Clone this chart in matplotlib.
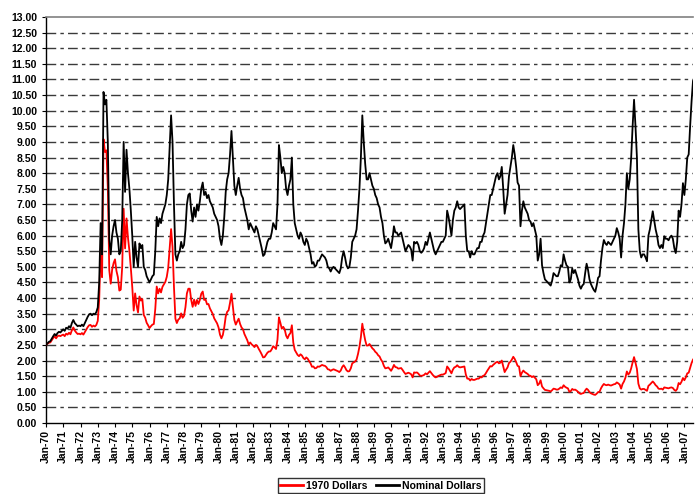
import matplotlib
matplotlib.use("Agg")
import matplotlib.pyplot as plt
import numpy as np

plt.rcParams['font.family'] = ['Liberation Sans', 'DejaVu Sans']
plt.rcParams['font.weight'] = 'bold'

# monthly prices, Jan-70 .. Jul-07 (one row per year)
nominal = [
    2.50, 2.55, 2.60, 2.62, 2.70, 2.78, 2.85, 2.80, 2.88, 2.92, 2.90, 2.95,  # 70
    3.00, 2.95, 3.05, 3.02, 3.10, 3.05, 3.20, 3.30, 3.20, 3.15, 3.10, 3.12,  # 71
    3.10, 3.15, 3.10, 3.20, 3.30, 3.40, 3.48, 3.50, 3.45, 3.50, 3.48, 3.55,  # 72
    3.70, 4.50, 6.40, 5.40, 10.60, 10.20, 10.35, 9.00, 5.90, 5.40, 6.00, 6.30,  # 73
    6.50, 6.10, 5.90, 5.40, 5.50, 6.50, 9.00, 7.40, 8.75, 8.00, 7.50, 6.80,  # 74
    6.00, 5.00, 5.80, 5.30, 5.00, 5.75, 5.60, 5.70, 5.00, 4.90, 4.70, 4.60,  # 75
    4.50, 4.60, 4.70, 4.75, 5.50, 6.60, 6.30, 6.55, 6.40, 6.70, 6.85, 7.00,  # 76
    7.30, 7.80, 8.80, 9.85, 9.00, 7.00, 5.40, 5.20, 5.40, 5.50, 5.80, 5.60,  # 77
    5.70, 6.20, 7.00, 7.30, 7.35, 6.80, 6.45, 6.90, 6.60, 7.00, 6.80, 7.10,  # 78
    7.50, 7.70, 7.30, 7.40, 7.20, 7.30, 7.10, 7.00, 6.90, 6.70, 6.60, 6.50,  # 79
    6.30, 5.90, 5.70, 6.00, 6.60, 7.40, 7.80, 8.00, 8.60, 9.35, 8.50, 7.60,  # 80
    7.30, 7.60, 7.85, 7.50, 7.30, 7.20, 6.90, 6.70, 6.50, 6.20, 6.40, 6.30,  # 81
    6.20, 6.10, 6.30, 6.20, 6.00, 5.80, 5.60, 5.35, 5.40, 5.60, 5.80, 5.90,  # 82
    5.90, 6.10, 6.40, 6.30, 6.20, 7.00, 8.90, 8.50, 8.00, 8.20, 8.00, 7.50,  # 83
    7.30, 7.60, 7.80, 8.50, 7.00, 6.40, 6.20, 6.00, 5.90, 6.10, 6.00, 5.80,  # 84
    5.70, 5.90, 5.80, 5.60, 5.40, 5.10, 5.15, 5.00, 5.05, 5.20, 5.20, 5.30,  # 85
    5.40, 5.35, 5.30, 5.20, 5.00, 4.95, 4.85, 4.95, 5.00, 4.95, 4.90, 4.85,  # 86
    4.80, 4.95, 5.30, 5.50, 5.30, 5.05, 4.95, 5.00, 5.30, 5.80, 5.90, 6.00,  # 87
    6.20, 6.80, 7.50, 8.50, 9.85, 9.00, 8.30, 7.80, 7.80, 8.00, 7.80, 7.60,  # 88
    7.50, 7.30, 7.20, 7.00, 6.90, 6.60, 6.40, 6.00, 5.75, 5.80, 5.90, 5.75,  # 89
    5.60, 5.90, 6.30, 6.10, 6.10, 6.00, 6.05, 6.10, 5.90, 5.70, 5.50, 5.60,  # 90
    5.70, 5.65, 5.55, 5.20, 5.80, 5.75, 5.80, 5.70, 5.50, 5.45, 5.50, 5.60,  # 91
    5.80, 5.70, 5.90, 6.10, 5.90, 5.70, 5.50, 5.40, 5.50, 5.60, 5.70, 5.80,  # 92
    5.80, 5.90, 6.00, 6.80, 6.60, 6.30, 6.00, 6.50, 6.80, 6.90, 7.10, 6.90,  # 93
    6.85, 6.90, 6.95, 7.00, 6.00, 5.50, 5.50, 5.30, 5.50, 5.40, 5.40, 5.50,  # 94
    5.60, 5.60, 5.80, 5.80, 6.00, 6.10, 6.40, 6.70, 7.00, 7.30, 7.30, 7.50,  # 95
    7.70, 7.90, 8.00, 7.80, 7.90, 8.20, 7.50, 6.70, 7.00, 7.30, 7.90, 8.20,  # 96
    8.50, 8.90, 8.60, 8.20, 7.70, 7.60, 6.30, 6.80, 7.10, 6.90, 6.80, 6.70,  # 97
    6.50, 6.45, 6.30, 6.40, 6.20, 6.00, 5.20, 5.40, 5.90, 5.05, 4.80, 4.60,  # 98
    4.55, 4.50, 4.45, 4.40, 4.55, 4.80, 4.75, 4.70, 4.70, 4.85, 5.05, 5.00,  # 99
    5.40, 5.20, 5.05, 5.00, 4.50, 4.60, 4.95, 4.80, 4.90, 4.75, 4.60, 4.40,  # 00
    4.30, 4.40, 4.45, 4.80, 5.10, 4.90, 4.60, 4.45, 4.35, 4.26, 4.20, 4.40,  # 01
    4.65, 4.70, 5.20, 5.60, 5.86, 5.75, 5.70, 5.80, 5.75, 5.70, 5.80, 5.90,  # 02
    6.00, 6.24, 6.10, 5.90, 5.30, 6.00, 6.40, 7.00, 8.00, 7.50, 7.80, 8.50,  # 03
    9.50, 10.35, 9.50, 8.50, 6.20, 5.50, 5.30, 5.40, 5.40, 5.30, 5.18, 6.00,  # 04
    6.20, 6.50, 6.78, 6.50, 6.20, 6.00, 5.70, 5.60, 5.70, 5.60, 5.98, 5.90,  # 05
    5.90, 5.85, 5.95, 6.00, 5.90, 5.60, 5.44, 5.80, 6.80, 6.60, 7.00, 7.68,  # 06
    7.30, 7.80, 8.50, 8.60, 9.50, 10.30, 10.95,                              # 07
]

dollars_1970 = [
    2.50, 2.54, 2.57, 2.58, 2.65, 2.72, 2.78, 2.71, 2.78, 2.80, 2.78, 2.81,  # 70
    2.83, 2.78, 2.86, 2.83, 2.89, 2.84, 2.97, 3.06, 2.96, 2.90, 2.85, 2.86,  # 71
    2.84, 2.88, 2.83, 2.91, 2.99, 3.07, 3.13, 3.14, 3.08, 3.12, 3.09, 3.14,  # 72
    3.27, 3.95, 5.57, 4.67, 9.09, 8.68, 8.73, 7.54, 4.90, 4.46, 4.91, 5.12,  # 73
    5.24, 4.87, 4.67, 4.24, 4.27, 5.00, 6.86, 5.59, 6.55, 5.94, 5.52, 4.96,  # 74
    4.35, 3.60, 4.15, 3.77, 3.54, 4.05, 3.92, 3.97, 3.46, 3.37, 3.21, 3.13,  # 75
    3.04, 3.10, 3.15, 3.17, 3.65, 4.37, 4.15, 4.30, 4.18, 4.36, 4.44, 4.52,  # 76
    4.68, 4.97, 5.58, 6.21, 5.64, 4.36, 3.34, 3.20, 3.31, 3.35, 3.51, 3.37,  # 77
    3.43, 3.71, 4.15, 4.30, 4.30, 3.94, 3.72, 3.95, 3.75, 3.94, 3.81, 3.94,  # 78
    4.14, 4.21, 3.94, 3.95, 3.80, 3.81, 3.67, 3.58, 3.49, 3.35, 3.27, 3.19,  # 79
    3.06, 2.83, 2.71, 2.82, 3.07, 3.41, 3.56, 3.61, 3.85, 4.14, 3.73, 3.30,  # 80
    3.15, 3.25, 3.34, 3.17, 3.06, 3.00, 2.85, 2.75, 2.65, 2.51, 2.58, 2.52,  # 81
    2.48, 2.43, 2.50, 2.46, 2.37, 2.29, 2.20, 2.10, 2.11, 2.18, 2.25, 2.29,  # 82
    2.29, 2.36, 2.46, 2.42, 2.37, 2.67, 3.38, 3.21, 3.02, 3.08, 3.00, 2.80,  # 83
    2.71, 2.82, 2.88, 3.13, 2.57, 2.34, 2.26, 2.18, 2.14, 2.20, 2.16, 2.08,  # 84
    2.04, 2.10, 2.06, 1.98, 1.91, 1.80, 1.81, 1.75, 1.76, 1.81, 1.80, 1.83,  # 85
    1.86, 1.84, 1.83, 1.79, 1.72, 1.71, 1.67, 1.70, 1.72, 1.70, 1.68, 1.66,  # 86
    1.63, 1.68, 1.79, 1.85, 1.78, 1.69, 1.65, 1.66, 1.75, 1.91, 1.94, 1.97,  # 87
    2.03, 2.21, 2.44, 2.75, 3.18, 2.89, 2.65, 2.48, 2.48, 2.53, 2.46, 2.39,  # 88
    2.35, 2.28, 2.24, 2.17, 2.13, 2.03, 1.96, 1.83, 1.75, 1.76, 1.78, 1.73,  # 89
    1.67, 1.75, 1.86, 1.79, 1.78, 1.74, 1.75, 1.76, 1.70, 1.63, 1.57, 1.59,  # 90
    1.61, 1.59, 1.56, 1.46, 1.62, 1.61, 1.62, 1.58, 1.52, 1.51, 1.52, 1.54,  # 91
    1.59, 1.56, 1.61, 1.66, 1.60, 1.54, 1.49, 1.46, 1.48, 1.51, 1.53, 1.55,  # 92
    1.55, 1.57, 1.60, 1.81, 1.75, 1.67, 1.59, 1.71, 1.78, 1.80, 1.85, 1.80,  # 93
    1.78, 1.79, 1.80, 1.81, 1.55, 1.42, 1.42, 1.36, 1.41, 1.38, 1.38, 1.40,  # 94
    1.42, 1.42, 1.47, 1.46, 1.51, 1.53, 1.60, 1.68, 1.75, 1.82, 1.81, 1.86,  # 95
    1.90, 1.94, 1.96, 1.91, 1.93, 2.00, 1.82, 1.63, 1.71, 1.78, 1.92, 1.96,  # 96
    2.03, 2.12, 2.05, 1.95, 1.83, 1.81, 1.50, 1.61, 1.68, 1.63, 1.60, 1.57,  # 97
    1.52, 1.51, 1.47, 1.50, 1.45, 1.40, 1.21, 1.26, 1.37, 1.17, 1.11, 1.06,  # 98
    1.05, 1.04, 1.03, 1.01, 1.05, 1.10, 1.09, 1.07, 1.07, 1.10, 1.14, 1.12,  # 99
    1.21, 1.16, 1.13, 1.11, 1.00, 1.02, 1.09, 1.06, 1.07, 1.04, 1.00, 0.95,  # 00
    0.93, 0.95, 0.96, 1.04, 1.10, 1.06, 0.99, 0.95, 0.93, 0.91, 0.90, 0.94,  # 01
    0.99, 1.00, 1.11, 1.19, 1.25, 1.22, 1.21, 1.23, 1.21, 1.20, 1.22, 1.24,  # 02
    1.25, 1.30, 1.27, 1.23, 1.10, 1.25, 1.33, 1.45, 1.65, 1.55, 1.61, 1.75,  # 03
    1.94, 2.11, 1.93, 1.73, 1.26, 1.11, 1.07, 1.09, 1.09, 1.06, 1.03, 1.19,  # 04
    1.23, 1.28, 1.33, 1.28, 1.21, 1.17, 1.10, 1.09, 1.10, 1.07, 1.14, 1.13,  # 05
    1.12, 1.11, 1.13, 1.14, 1.12, 1.06, 1.03, 1.09, 1.28, 1.24, 1.32, 1.44,  # 06
    1.37, 1.46, 1.59, 1.61, 1.77, 1.92, 2.03,                                # 07
]

years = list(range(1970, 2008))
tick_labels = ['Jan-%02d' % (y % 100) for y in years]

months = np.arange(len(nominal))

fig = plt.figure(figsize=(6.96, 4.94), dpi=100)
ax = fig.add_axes([46 / 696, 1 - 423 / 494, (693 - 46) / 696, 406 / 494])

ax.plot(months, dollars_1970, color='#ff0000', lw=1.3, label='1970 Dollars', zorder=3)
ax.plot(months, nominal, color='#000000', lw=1.3, label='Nominal Dollars', zorder=4)

ax.set_xlim(0, len(nominal) - 1)
ax.set_ylim(0, 13)
ax.set_yticks(np.arange(0, 13.01, 0.5))
ax.set_yticklabels(['%.2f' % v for v in np.arange(0, 13.01, 0.5)])
ax.set_xticks(np.arange(0, len(nominal), 12))
ax.set_xticklabels(tick_labels, rotation=90)
ax.tick_params(axis='both', labelsize=7.5, length=3, width=0.8, color='black')
ax.tick_params(axis='x', pad=2)

for v in np.arange(0.5, 13, 0.5):
    ax.axhline(v, color='#3a3a3a', lw=1.0, linestyle=(0, (7, 3, 2.5, 3)), zorder=1)

ax.spines['right'].set_visible(False)
ax.spines['top'].set_color('#808080')
ax.spines['top'].set_linewidth(1.2)
ax.spines['left'].set_linewidth(1.0)
ax.spines['bottom'].set_linewidth(1.0)

leg = fig.legend(loc='upper center', bbox_to_anchor=(381 / 696, 1 - 478 / 494), ncol=2,
                 fontsize=7.5, frameon=True, fancybox=False, edgecolor='black',
                 handlelength=2.2, handletextpad=0.3, columnspacing=0.8,
                 borderpad=0.25, borderaxespad=0)
leg.get_frame().set_linewidth(1.0)
for line in leg.get_lines():
    line.set_linewidth(2.0)

plt.savefig('out.png', dpi=100)
plt.close()
